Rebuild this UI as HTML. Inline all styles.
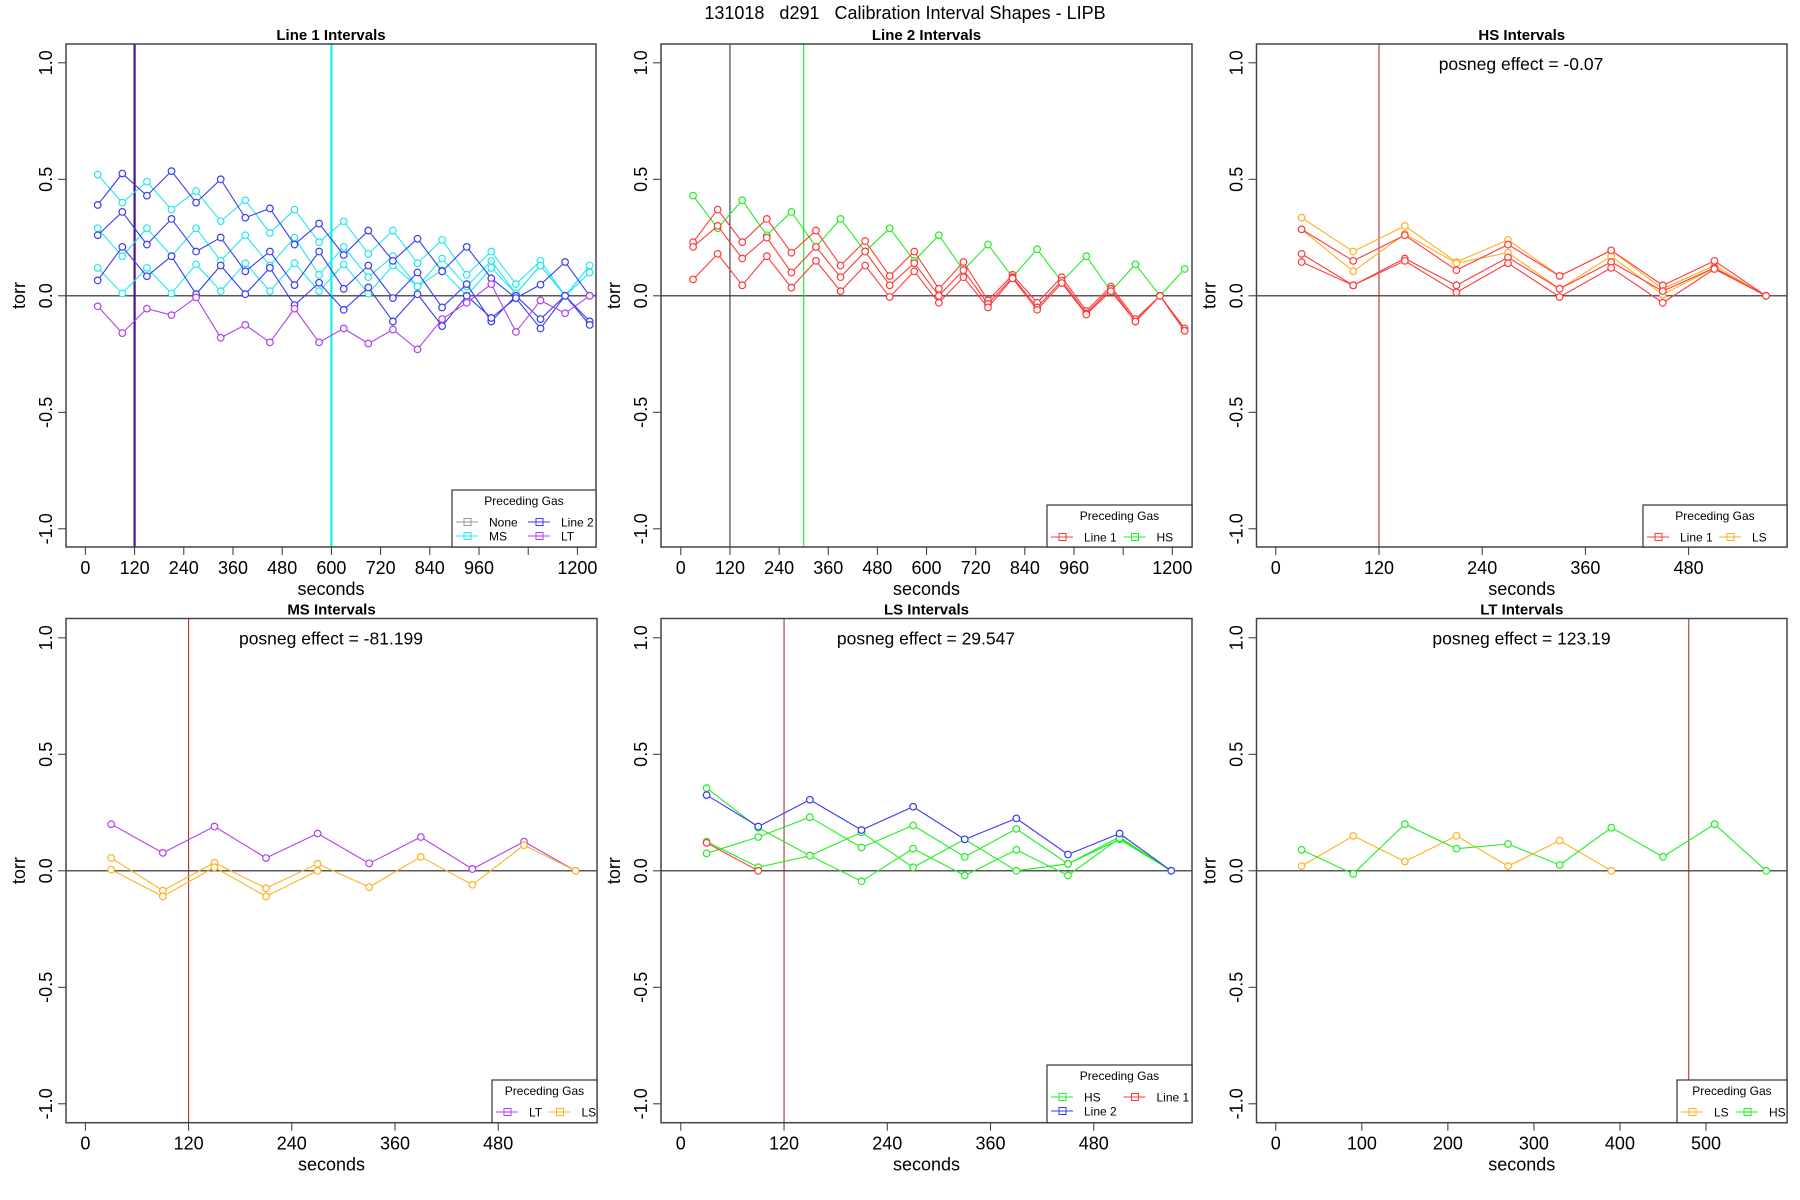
<!DOCTYPE html>
<html><head><meta charset="utf-8"><style>
html,body{margin:0;padding:0;background:#fff;}
svg{display:block;font-family:"Liberation Sans",Arial,sans-serif;}
</style></head><body>
<svg id="chart" width="1800" height="1200" viewBox="0 0 1800 1200" xmlns="http://www.w3.org/2000/svg">
<rect width="1800" height="1200" fill="#fff"/>
<text x="905" y="19" font-size="18" text-anchor="middle" fill="#000" xml:space="preserve">131018   d291   Calibration Interval Shapes - LIPB</text>
</svg>
<script>
// ---- data ----
const times21 = [30,90,150,210,270,330,390,450,510,570,630,690,750,810,870,930,990,1050,1110,1170,1230];
const times10 = [30,90,150,210,270,330,390,450,510,570];
const yTicks = [-1,-0.5,0,0.5,1];
const yTickLabels = ["-1.0","-0.5","0.0","0.5","1.0"];
const xTicksLong = [0,120,240,360,480,600,720,840,960,1080,1200];
const xTickLabelsLong = ["0","120","240","360","480","600","720","840","960","","1200"];
const xTicksShort = [0,120,240,360,480];
const xTickLabelsShort = ["0","120","240","360","480"];
const xTicksLT = [0,100,200,300,400,500];
const xTickLabelsLT = ["0","100","200","300","400","500"];

// Panel 1: Line 1 Intervals
const p1MS1 = [.52,.40,.49,.37,.45,.32,.41,.27,.37,.23,.32,.18,.28,.14,.24,.09,.19,.05,.15,0,.13];
const p1MS2 = [.29,.17,.29,.17,.29,.15,.26,.13,.25,.09,.21,.08,.17,.04,.16,.04,.15,.01,.13,0,.10];
const p1MS3 = [.12,.01,.12,.01,.135,.02,.14,.02,.14,.02,.135,.01,.13,.04,.11,0,.12,.01,.13,0,.10];
const p1L2a = [.39,.525,.43,.535,.40,.50,.335,.375,.22,.31,.175,.28,.15,.245,.105,.21,.075,-.01,.048,.145,0];
const p1L2b = [.26,.36,.22,.33,.19,.25,.105,.19,.046,.19,.03,.13,-.01,.10,-.05,.05,-.11,0,-.10,0,-.11];
const p1L2c = [.066,.21,.084,.17,.007,.13,.007,.12,-.04,.056,-.06,.036,-.11,.007,-.13,0,-.095,-.01,-.14,0,-.125];
const p1LT = [-.045,-.16,-.055,-.083,-.007,-.18,-.125,-.2,-.055,-.2,-.14,-.205,-.145,-.23,-.10,-.03,.05,-.155,-.02,-.075,0];
// Panel 2: Line 2 Intervals
const p2HS = [.43,.29,.41,.26,.36,.21,.33,.19,.29,.15,.26,.11,.22,.08,.20,.06,.17,.02,.135,0,.115];
const p2L1a = [.23,.37,.23,.33,.185,.28,.13,.235,.085,.19,.03,.145,-.02,.09,-.03,.08,-.065,.04,-.10,0,-.14];
const p2L1b = [.21,.30,.16,.25,.10,.21,.08,.19,.045,.14,0,.11,-.035,.08,-.05,.065,-.075,.03,-.11,0,-.15];
const p2L1c = [.07,.18,.045,.17,.035,.15,.02,.13,-.005,.105,-.03,.08,-.05,.075,-.06,.055,-.08,.02,-.11,0,-.15];
// Panel 3: HS Intervals
const p3LS1 = [.335,.19,.30,.145,.24,.085,.195,.03,.13,0];
const p3LS2 = [.285,.105,.265,.14,.185,.03,.17,.005,.12,0];
const p3L1a = [.285,.15,.26,.11,.22,.085,.195,.045,.15,0];
const p3L1b = [.18,.045,.16,.045,.165,.03,.145,.02,.12,0];
const p3L1c = [.145,.045,.15,.015,.14,-.005,.12,-.03,.115,0];
// Panel 4: MS Intervals
const p4LT = [.20,.077,.19,.055,.16,.032,.145,.008,.125,0];
const p4LS1 = [.055,-.085,.035,-.075,.03,-.07,.06,-.06,.11,0];
const p4LS2 = [.005,-.11,.015,-.11,0];
// Panel 5: LS Intervals
const p5L2 = [.325,.19,.305,.175,.275,.135,.225,.07,.16,0];
const p5HS1 = [.355,.185,.065,.165,.015,.135,0,.03,.145,0];
const p5HS2 = [.075,.145,.23,.10,.195,.06,.18,.03,.135,0];
const p5HS3 = [.125,.015,.065,-.045,.095,-.02,.09,-.02,.14,0];
const p5L1 = [.12,0];
// Panel 6: LT Intervals
const p6LS = [.02,.15,.04,.15,.02,.13,0];
const p6HS = [.09,-.013,.20,.095,.115,.025,.185,.06,.20,0];

const C = {cyan:"#22e8f0", blue:"#3a3af5", purple:"#b040f0", gray:"#999999", red:"#ff3a3a", green:"#22ee22", orange:"#ffb020", dred:"#a02020", dpurple:"#4b1090"};

const svg = document.getElementById('chart');
const NS = "http://www.w3.org/2000/svg";
function mk(tag, attrs, parent){
  const e = document.createElementNS(NS, tag);
  for (const k in attrs) e.setAttribute(k, attrs[k]);
  (parent||svg).appendChild(e);
  return e;
}

function makePanel(cfg){
  const g = mk('g', {});
  
  
  const xs = s => cfg.x0 + s*cfg.pps;
  const ys = v => cfg.yZero - v*233;
  cfg.xs = xs; cfg.ys = ys; cfg.g = g;
  // title
  const t = mk('text', {x:(cfg.bx0+cfg.bx1)/2, y:cfg.top-4, 'font-size':15, 'font-weight':'bold', 'text-anchor':'middle'}, g);
  t.textContent = cfg.title;
  
  
  // y axis
  yTicks.forEach((v,i)=>{
    const y = ys(v);
    mk('line', {x1:cfg.bx0-8, x2:cfg.bx0, y1:y, y2:y, stroke:'#333', 'stroke-width':1}, g);
    const lb = mk('text', {x:0, y:0, 'font-size':18, 'text-anchor':'middle', transform:`translate(${cfg.bx0-14},${y}) rotate(-90)`}, g);
    lb.textContent = yTickLabels[i];
    
    
  });
  const yl = mk('text', {x:0,y:0,'font-size':18,'text-anchor':'middle',transform:`translate(${cfg.bx0-41},${(cfg.top+cfg.bottom)/2}) rotate(-90)`}, g);
  yl.textContent = 'torr';
  
  
  // x axis
  cfg.xt.forEach((s,i)=>{
    const x = xs(s);
    mk('line', {x1:x, x2:x, y1:cfg.bottom, y2:cfg.bottom+8, stroke:'#333','stroke-width':1}, g);
    const lb = mk('text', {x:x, y:cfg.bottom+27, 'font-size':18, 'text-anchor':'middle'}, g);
    lb.textContent = cfg.xl[i];
    
    
  });
  const xl = mk('text', {x:(cfg.bx0+cfg.bx1)/2, y:cfg.bottom+48, 'font-size':18, 'text-anchor':'middle'}, g);
  xl.textContent = 'seconds';
  
  
  // clip
  const cid = 'clip-'+cfg.name;
  const cp = mk('clipPath', {id:cid}, g);
  mk('rect', {x:cfg.bx0, y:cfg.top, width:cfg.bx1-cfg.bx0, height:cfg.bottom-cfg.top}, cp);
  const pg = mk('g', {'clip-path':`url(#${cid})`}, g);
  cfg.pg = pg;
  // zero line
  const zl = mk('line', {x1:cfg.bx0, x2:cfg.bx1, y1:ys(0), y2:ys(0), stroke:'#222', 'stroke-width':1.2}, pg);
  
  
  // vlines
  (cfg.vlines||[]).forEach(v=>{
    const l = mk('line', {x1:xs(v.s), x2:xs(v.s), y1:cfg.top, y2:cfg.bottom, stroke:v.c, 'stroke-width':v.w}, pg);
    
    
  });
  // box
  const bx = mk('rect', {x:cfg.bx0, y:cfg.top, width:cfg.bx1-cfg.bx0, height:cfg.bottom-cfg.top, fill:'none', stroke:'#444', 'stroke-width':1.5}, g);
  
  
  if (cfg.note){
    const n = mk('text', {x:cfg.noteX, y:cfg.top+26, 'font-size':17.5, 'text-anchor':'middle'}, g);
    n.textContent = cfg.note;
    
    
  }
  return cfg;
}

function series(cfg, times, vals, color, name){
  const pts = vals.map((v,i)=>[cfg.xs(times[i]), cfg.ys(v)]);
  const pl = mk('polyline', {points:pts.map(p=>p.join(',')).join(' '), fill:'none', stroke:color, 'stroke-width':1.1}, cfg.pg);
  
  
  pts.forEach(p=>{
    const c = mk('circle', {cx:p[0], cy:p[1], r:3.3, fill:'#fff', stroke:color, 'stroke-width':1.2}, cfg.pg);
    
    
  });
}

function legend(cfg, x0, y0, x1, entries, cols){
  const g = mk('g', {}, cfg.g);
  
  
  mk('rect', {x:x0, y:y0, width:x1-x0, height:cfg.bottom-y0, fill:'#fff', stroke:'#333', 'stroke-width':1.2}, g);
  const tt = mk('text', {x:(x0+x1)/2, y:y0+15, 'font-size':12, 'text-anchor':'middle'}, g);
  tt.textContent = 'Preceding Gas';
  const colW = (x1-x0)/cols;
  entries.forEach((e,i)=>{
    const col = i%cols, row = Math.floor(i/cols);
    const lx = x0+4+col*colW, ly = y0+32+row*14;
    mk('line', {x1:lx, x2:lx+22, y1:ly, y2:ly, stroke:e.c, 'stroke-width':1.1}, g);
    mk('rect', {x:lx+8, y:ly-3.5, width:7, height:7, fill:'none', stroke:e.c, 'stroke-width':1}, g);
    const t = mk('text', {x:lx+(e.off||33), y:ly+4.5, 'font-size':12}, g);
    t.textContent = e.t;
    
    
  });
}

const TOP = {top:44, bottom:547, yZero:295.8};
const BOT = {top:618.5, bottom:1122.7, yZero:870.8};

// Panel 1
const P1 = makePanel(Object.assign({name:'line1-intervals-panel', title:'Line 1 Intervals', bx0:66, bx1:596, x0:85.4, pps:0.41, xt:xTicksLong, xl:xTickLabelsLong,
  vlines:[{s:120,c:C.dpurple,w:2.2},{s:600,c:'#10f0f0',w:2.2}]}, TOP));
series(P1, times21, p1MS1, C.cyan, 'ms-1');
series(P1, times21, p1MS2, C.cyan, 'ms-2');
series(P1, times21, p1MS3, C.cyan, 'ms-3');
series(P1, times21, p1L2a, C.blue, 'line2-1');
series(P1, times21, p1L2b, C.blue, 'line2-2');
series(P1, times21, p1L2c, C.blue, 'line2-3');
series(P1, times21, p1LT, C.purple, 'lt-1');
legend(P1, 452, 490, 596, [{t:'None',c:C.gray},{t:'Line 2',c:C.blue},{t:'MS',c:C.cyan},{t:'LT',c:C.purple}], 2);

// Panel 2
const P2 = makePanel(Object.assign({name:'line2-intervals-panel', title:'Line 2 Intervals', bx0:661, bx1:1192, x0:680.8, pps:0.4096, xt:xTicksLong, xl:xTickLabelsLong,
  vlines:[{s:120,c:'#222',w:1},{s:300,c:C.green,w:1.2}]}, TOP));
series(P2, times21, p2HS, C.green, 'hs-1');
series(P2, times21, p2L1a, C.red, 'line1-1');
series(P2, times21, p2L1b, C.red, 'line1-2');
series(P2, times21, p2L1c, C.red, 'line1-3');
legend(P2, 1047, 505, 1192, [{t:'Line 1',c:C.red},{t:'HS',c:C.green}], 2);

// Panel 3
const P3 = makePanel(Object.assign({name:'hs-intervals-panel', title:'HS Intervals', bx0:1256.5, bx1:1787, x0:1275.8, pps:0.86, xt:xTicksShort, xl:xTickLabelsShort,
  vlines:[{s:120,c:C.dred,w:1}], note:'posneg effect = -0.07', noteX:1521}, TOP));
series(P3, times10, p3LS1, C.orange, 'ls-1');
series(P3, times10, p3LS2, C.orange, 'ls-2');
series(P3, times10, p3L1a, C.red, 'line1-1');
series(P3, times10, p3L1b, C.red, 'line1-2');
series(P3, times10, p3L1c, C.red, 'line1-3');
legend(P3, 1643, 505, 1787, [{t:'Line 1',c:C.red},{t:'LS',c:C.orange}], 2);

// Panel 4
const P4 = makePanel(Object.assign({name:'ms-intervals-panel', title:'MS Intervals', bx0:66, bx1:597, x0:85.4, pps:0.86, xt:xTicksShort, xl:xTickLabelsShort,
  vlines:[{s:120,c:C.dred,w:1}], note:'posneg effect = -81.199', noteX:331}, BOT));
series(P4, times10, p4LT, C.purple, 'lt-1');
series(P4, times10, p4LS1, C.orange, 'ls-1');
series(P4, times10.slice(0,5), p4LS2, C.orange, 'ls-2');
legend(P4, 492, 1080, 597, [{t:'LT',c:C.purple},{t:'LS',c:C.orange}], 2);

// Panel 5
const P5 = makePanel(Object.assign({name:'ls-intervals-panel', title:'LS Intervals', bx0:661, bx1:1192, x0:680.8, pps:0.8604, xt:xTicksShort, xl:xTickLabelsShort,
  vlines:[{s:120,c:C.dred,w:1}], note:'posneg effect = 29.547', noteX:926}, BOT));
series(P5, times10, p5HS1, C.green, 'hs-1');
series(P5, times10, p5HS2, C.green, 'hs-2');
series(P5, times10, p5HS3, C.green, 'hs-3');
series(P5, times10, p5L2, C.blue, 'line2-1');
series(P5, times10.slice(0,2), p5L1, C.red, 'line1-1');
legend(P5, 1047, 1065, 1192, [{t:'HS',c:C.green},{t:'Line 1',c:C.red},{t:'Line 2',c:C.blue}], 2);

// Panel 6
const P6 = makePanel(Object.assign({name:'lt-intervals-panel', title:'LT Intervals', bx0:1256.5, bx1:1787, x0:1275.8, pps:0.8604, xt:xTicksLT, xl:xTickLabelsLT,
  vlines:[{s:480,c:C.dred,w:1}], note:'posneg effect = 123.19', noteX:1521.5}, BOT));
series(P6, times10.slice(0,7), p6LS, C.orange, 'ls-1');
series(P6, times10, p6HS, C.green, 'hs-1');
legend(P6, 1677, 1080, 1787, [{t:'LS',c:C.orange},{t:'HS',c:C.green}], 2);
</script>
</body></html>
